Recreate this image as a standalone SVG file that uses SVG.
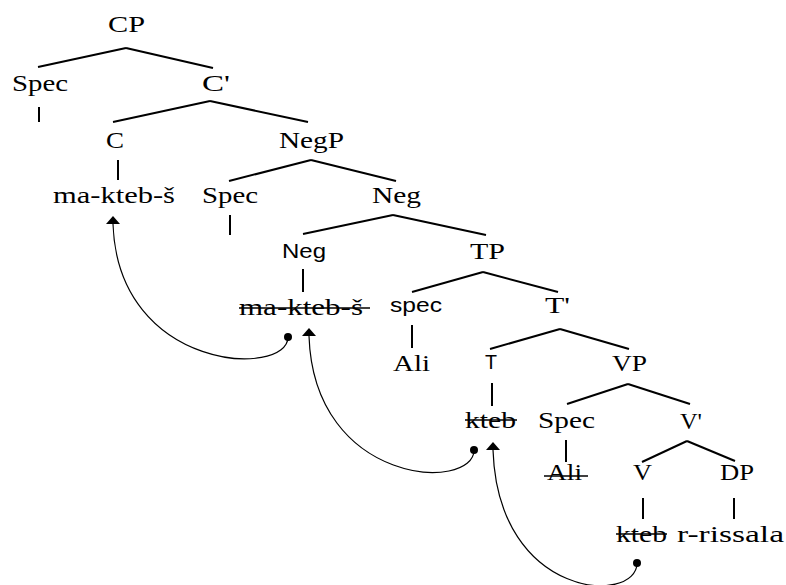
<svg xmlns="http://www.w3.org/2000/svg" width="786" height="585" viewBox="0 0 786 585">
<style>
text{fill:#000}
.s{font-family:"Liberation Serif","Times New Roman",serif;font-size:24px}
.a{font-family:"Liberation Sans",Arial,sans-serif;font-size:21px}
.e{stroke:#000;stroke-width:2;fill:none;stroke-linecap:butt}
.k{stroke:#000;stroke-width:1.5}
.m{stroke:#000;stroke-width:1.2;fill:none}
</style>
<defs>
<marker id="tip" viewBox="0 0 14 8" refX="7" refY="8" markerWidth="14" markerHeight="8" markerUnits="userSpaceOnUse" orient="0">
<path d="M0 8 L7 0 L14 8 Z" fill="#000"/>
</marker>
<marker id="dot" viewBox="0 0 8 8" refX="4" refY="4" markerWidth="8" markerHeight="8" markerUnits="userSpaceOnUse" orient="0">
<circle cx="4" cy="4" r="4" fill="#000"/>
</marker>
</defs>
<g id="connectors">
<line class="e" x1="126" y1="48" x2="38" y2="67"/>
<line class="e" x1="126" y1="48" x2="213" y2="68"/>
<line class="e" x1="39" y1="107" x2="39" y2="122"/>
<line class="e" x1="210" y1="101" x2="113" y2="122"/>
<line class="e" x1="210" y1="101" x2="308" y2="122"/>
<line class="e" x1="118" y1="160" x2="118" y2="180"/>
<line class="e" x1="311" y1="160" x2="229" y2="181"/>
<line class="e" x1="311" y1="160" x2="396" y2="181"/>
<line class="e" x1="230" y1="215" x2="230" y2="235"/>
<line class="e" x1="393" y1="215" x2="303" y2="234"/>
<line class="e" x1="393" y1="215" x2="486" y2="235"/>
<line class="e" x1="303" y1="269" x2="303" y2="292"/>
<line class="e" x1="483" y1="272" x2="412" y2="292"/>
<line class="e" x1="483" y1="272" x2="558" y2="292"/>
<line class="e" x1="412" y1="325" x2="412" y2="348"/>
<line class="e" x1="560" y1="329" x2="490" y2="349"/>
<line class="e" x1="560" y1="329" x2="629" y2="349"/>
<line class="e" x1="492" y1="383" x2="492" y2="406"/>
<line class="e" x1="628" y1="384" x2="567" y2="404"/>
<line class="e" x1="628" y1="384" x2="690" y2="404"/>
<line class="e" x1="566" y1="440" x2="566" y2="462"/>
<line class="e" x1="687" y1="441" x2="642" y2="462"/>
<line class="e" x1="687" y1="441" x2="735" y2="461"/>
<line class="e" x1="643" y1="498" x2="643" y2="519"/>
<line class="e" x1="734" y1="498" x2="734" y2="519"/>
<path class="m" d="M288 337 C288 378 118 372 113 224" marker-start="url(#dot)" marker-end="url(#tip)"/>
<path class="m" d="M474 450 C474 492 314 486 309 336" marker-start="url(#dot)" marker-end="url(#tip)"/>
<path class="m" d="M637 563 C637 605 498 600 493 450" marker-start="url(#dot)" marker-end="url(#tip)"/>
</g>
<g id="CP"><text class="s" x="108" y="32" textLength="37" lengthAdjust="spacingAndGlyphs">CP</text></g>
<g id="SpecC"><text class="s" x="12" y="91" textLength="56" lengthAdjust="spacingAndGlyphs">Spec</text></g>
<g id="Cbar"><text class="s" x="202" y="91" textLength="28" lengthAdjust="spacingAndGlyphs">C'</text></g>
<g id="C"><text class="s" x="106" y="148" textLength="18" lengthAdjust="spacingAndGlyphs">C</text></g>
<g id="NegP"><text class="s" x="279" y="148" textLength="65" lengthAdjust="spacingAndGlyphs">NegP</text></g>
<g id="C-head"><text class="s" x="53" y="203" textLength="122" lengthAdjust="spacingAndGlyphs">ma-kteb-š</text></g>
<g id="SpecNeg"><text class="s" x="202" y="203" textLength="56" lengthAdjust="spacingAndGlyphs">Spec</text></g>
<g id="Negbar"><text class="s" x="372" y="203" textLength="49" lengthAdjust="spacingAndGlyphs">Neg</text></g>
<g id="Neg"><text class="a" x="282" y="258" textLength="44" lengthAdjust="spacingAndGlyphs">Neg</text></g>
<g id="TP"><text class="s" x="470" y="259" textLength="35" lengthAdjust="spacingAndGlyphs">TP</text></g>
<g id="Neg-head"><text class="s" x="239" y="315" textLength="124" lengthAdjust="spacingAndGlyphs">ma-kteb-š</text><line class="k" x1="239" y1="308" x2="370" y2="308"/></g>
<g id="specT"><text class="a" x="390" y="312" textLength="52" lengthAdjust="spacingAndGlyphs">spec</text></g>
<g id="Tbar"><text class="s" x="545" y="313" textLength="25" lengthAdjust="spacingAndGlyphs">T'</text></g>
<g id="Ali"><text class="s" x="393" y="371" textLength="37" lengthAdjust="spacingAndGlyphs">Ali</text></g>
<g id="T"><text class="a" x="485" y="369" textLength="12" lengthAdjust="spacingAndGlyphs">T</text></g>
<g id="VP"><text class="s" x="612" y="371" textLength="35" lengthAdjust="spacingAndGlyphs">VP</text></g>
<g id="T-head"><text class="s" x="465" y="428" textLength="51" lengthAdjust="spacingAndGlyphs">kteb</text><line class="k" x1="465" y1="420" x2="517" y2="420"/></g>
<g id="SpecV"><text class="s" x="538" y="428" textLength="57" lengthAdjust="spacingAndGlyphs">Spec</text></g>
<g id="Vbar"><text class="s" x="680" y="429" textLength="22" lengthAdjust="spacingAndGlyphs">V'</text></g>
<g id="Ali-trace"><text class="s" x="547" y="480" textLength="35" lengthAdjust="spacingAndGlyphs">Ali</text><line class="k" x1="544" y1="476" x2="588" y2="476"/></g>
<g id="V"><text class="s" x="633" y="480" textLength="19" lengthAdjust="spacingAndGlyphs">V</text></g>
<g id="DP"><text class="s" x="720" y="480" textLength="34" lengthAdjust="spacingAndGlyphs">DP</text></g>
<g id="V-head"><text class="s" x="616" y="542" textLength="51" lengthAdjust="spacingAndGlyphs">kteb</text><line class="k" x1="616" y1="534" x2="667" y2="534"/></g>
<g id="rissala"><text class="s" x="677" y="542" textLength="107" lengthAdjust="spacingAndGlyphs">r-rissala</text></g>
</svg>
